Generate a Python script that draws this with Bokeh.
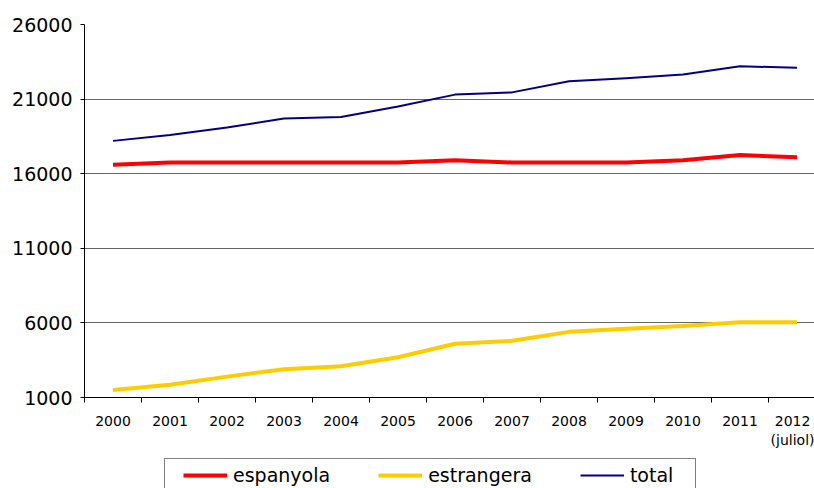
from bokeh.plotting import figure
from bokeh.layouts import column
from bokeh.models import FixedTicker, Legend, LegendItem, Range1d, ColumnDataSource
from bokeh.embed import file_html
from bokeh.resources import INLINE

# ---- data ----
years = ["2000", "2001", "2002", "2003", "2004", "2005", "2006",
         "2007", "2008", "2009", "2010", "2011", "2012\n(juliol)"]
espanyola = [16600, 16750, 16750, 16750, 16750, 16750, 16900,
             16750, 16750, 16750, 16900, 17250, 17100]
estrangera = [1500, 1850, 2400, 2900, 3100, 3700, 4600,
              4800, 5400, 5600, 5800, 6050, 6050]
total = [18200, 18600, 19100, 19700, 19800, 20500, 21300,
         21450, 22200, 22400, 22650, 23200, 23100]
y_ticks = [1000, 6000, 11000, 16000, 21000, 26000]
series_names = ["espanyola", "estrangera", "total"]
series_colors = ["#FF0000", "#FFCC00", "#000080"]
series_widths = [4, 4, 2]

FONT = "DejaVu Sans"
idx = list(range(len(years)))

src = ColumnDataSource(dict(x=idx, espanyola=espanyola,
                            estrangera=estrangera, total=total))

# ---- main chart ----
p = figure(width=814, height=452, output_backend="svg", toolbar_location=None,
           x_range=Range1d(-0.5, 12.307), y_range=Range1d(1000, 26000),
           min_border_left=84, min_border_right=0, min_border_top=24,
           min_border_bottom=55)
p.outline_line_color = None

p.xgrid.visible = False
p.ygrid.ticker = FixedTicker(ticks=y_ticks)
p.ygrid.grid_line_color = "#666666"
p.ygrid.grid_line_width = 1

ya = p.yaxis[0]
ya.ticker = FixedTicker(ticks=y_ticks)
ya.major_tick_out = 4
ya.major_tick_in = 0
ya.minor_tick_out = 0
ya.minor_tick_in = 0
ya.axis_line_color = "black"
ya.major_tick_line_color = "black"
ya.major_label_text_font = FONT
ya.major_label_text_font_size = "19px"
ya.major_label_text_color = "black"
ya.major_label_standoff = 8

xa = p.xaxis[0]
xa.ticker = FixedTicker(ticks=idx, minor_ticks=[i - 0.5 for i in range(len(years) + 1)])
xa.major_tick_out = 0
xa.major_tick_in = 0
xa.minor_tick_out = 5
xa.minor_tick_in = 0
xa.minor_tick_line_color = "black"
xa.axis_line_color = "black"
xa.major_label_overrides = {i: lab for i, lab in zip(idx, years)}
xa.major_label_text_font = FONT
xa.major_label_text_font_size = "14px"
xa.major_label_text_color = "black"
xa.major_label_standoff = 10

for name, col, w in zip(series_names, series_colors, series_widths):
    p.line("x", name, source=src, line_color=col, line_width=w, line_join="round")

# ---- legend strip (separate figure below the chart) ----
q = figure(width=814, height=36, output_backend="svg", toolbar_location=None,
           x_range=Range1d(-0.5, 12.307), y_range=Range1d(-20000, -10000),
           x_axis_location=None, y_axis_location=None,
           min_border_left=0, min_border_right=0, min_border_top=0, min_border_bottom=0)
q.outline_line_color = None
q.xgrid.visible = False
q.ygrid.visible = False
leg_r = [q.line("x", name, source=src, line_color=col, line_width=w)
         for name, col, w in zip(series_names, series_colors, series_widths)]
rb = q.line("x", "total", source=src, line_alpha=0)

legB = Legend(items=[LegendItem(label=" ", renderers=[rb])], location=(80, -4),
              padding=4, margin=0, glyph_width=1, glyph_height=24, label_height=24,
              label_width=521, label_standoff=0, label_text_alpha=0,
              label_text_font_size="19px",
              border_line_color="black", border_line_width=1,
              background_fill_color="white", background_fill_alpha=1)
legA = Legend(items=[LegendItem(label=n, renderers=[r]) for n, r in zip(series_names, leg_r)],
              location=(99, 2), orientation="horizontal", padding=4, margin=0,
              spacing=48, glyph_width=44, glyph_height=22, label_height=22,
              label_standoff=6, label_text_font=FONT, label_text_font_size="19px",
              label_text_color="black",
              border_line_color=None, background_fill_alpha=0)
q.add_layout(legB)
q.add_layout(legA)

layout = column(p, q, spacing=0)
open("out.html", "w").write(file_html(layout, INLINE))
